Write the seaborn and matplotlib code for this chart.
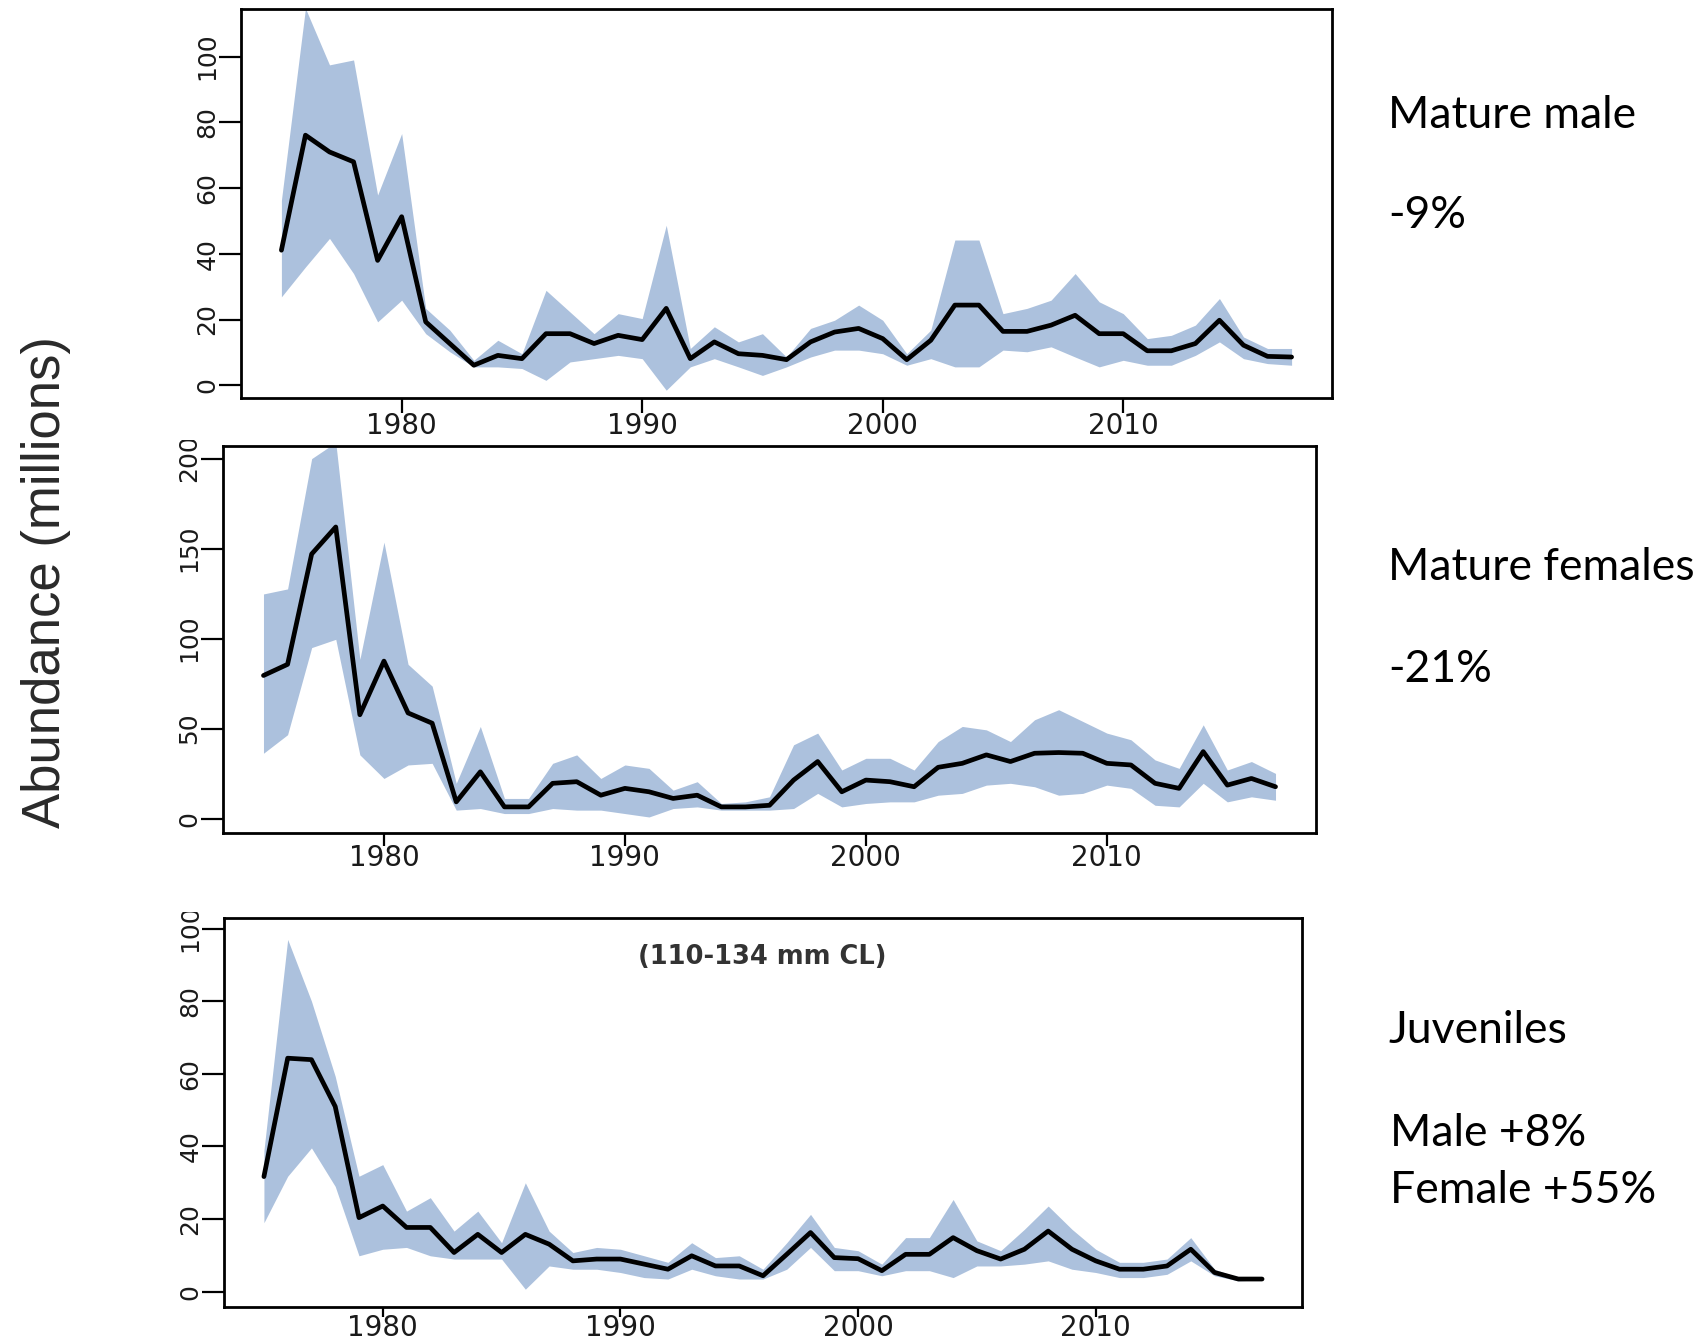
import numpy as np
import pandas as pd
import matplotlib
matplotlib.use("Agg")
import matplotlib.pyplot as plt
from matplotlib.transforms import Bbox
import seaborn as sns

# ---------------- data ----------------
years = list(range(1975, 2018))

male_mean = [41.1, 76.1, 71, 68, 38, 51.3, 19.3, 12.7, 6.1, 9.1, 8.1, 15.7, 15.7, 12.7, 15.2,
             13.9, 23.4, 8.1, 13.2, 9.6, 9.1, 7.8, 13.2, 16.2, 17.3, 14.2, 7.8, 13.7, 24.4,
             24.4, 16.4, 16.4, 18.3, 21.3, 15.7, 15.7, 10.5, 10.5, 12.7, 19.8, 12.2, 8.8, 8.6]
male_upper = [56.3, 114.7, 97.5, 99, 57.9, 76.6, 23.4, 16.8, 7.6, 13.7, 9.6, 28.9, 22.3, 15.7,
              21.8, 20.3, 48.7, 11.2, 17.8, 13.2, 15.7, 8.6, 17.3, 19.8, 24.4, 19.8, 9.6, 16.8,
              44.2, 44.2, 21.8, 23.4, 25.9, 34, 25.4, 21.8, 14.2, 15.2, 18.3, 26.4, 14.7, 11.2, 11.2]
male_lower = [26.9, 36, 44.7, 34, 19.3, 25.9, 15.7, 10.2, 5.6, 5.6, 5.1, 1.5, 7.1, 8.1, 9.1,
              8.1, -1.5, 5.6, 8.1, 5.6, 3.0, 5.6, 8.6, 10.7, 10.7, 9.6, 6.1, 8.1, 5.6, 5.6,
              10.7, 10.2, 11.7, 8.6, 5.6, 7.6, 6.1, 6.1, 9.1, 13.2, 8.1, 6.6, 6.1]

female_mean = [79.5, 85.7, 147, 162, 57.7, 87.5, 58.7, 53, 9.3, 26, 6.5, 6.5, 19.6, 20.5, 13,
               16.8, 14.9, 11.2, 13, 6.5, 6.5, 7.4, 21.4, 31.7, 14.9, 21.4, 20.5, 17.7, 28.5,
               30.7, 35.4, 31.7, 36.3, 36.7, 36.3, 30.7, 29.8, 19.6, 16.8, 37.2, 18.6, 22.3, 17.7]
female_upper = [124.8, 127.6, 200, 209, 88.5, 153.6, 85.7, 73.6, 19.6, 51.2, 11.2, 11.2, 30.7,
                35.4, 22.3, 29.8, 27.9, 15.8, 20.5, 8.4, 9.3, 12.1, 41, 47.5, 27, 33.5, 33.5,
                27, 42.8, 51.2, 49.3, 42.8, 54.9, 60.5, 54, 47.5, 43.8, 32.6, 27.9, 52.1, 27,
                31.7, 25.1]
female_lower = [36.3, 46.6, 95, 99.6, 35.4, 22.3, 29.8, 30.7, 4.7, 5.6, 2.8, 2.8, 5.6, 4.7, 4.7,
                2.8, 0.9, 5.6, 6.5, 4.7, 4.7, 4.7, 5.6, 14, 6.5, 8.4, 9.3, 9.3, 13, 14, 18.6,
                19.6, 17.7, 13, 14, 18.6, 16.8, 7.4, 6.5, 19.6, 9.3, 12.1, 10.2]

juv_mean = [31.7, 64.3, 63.9, 51, 20.4, 23.6, 17.7, 17.7, 10.8, 15.8, 10.8, 15.8, 13.1, 8.5, 9,
            9, 7.6, 6.2, 9.9, 7.1, 7.1, 4.4, 10.3, 16.3, 9.4, 9.1, 5.8, 10.3, 10.3, 14.9, 11.3,
            9, 11.7, 16.7, 11.7, 8.5, 6.2, 6.2, 7.1, 11.7, 5.3, 3.5, 3.5]
juv_upper = [38.9, 97, 80, 59.3, 31.8, 35, 22.2, 25.9, 16.7, 22.2, 13.5, 30, 16.7, 10.8, 12.2,
             11.7, 9.9, 8.1, 13.5, 9.4, 9.9, 6.2, 13.5, 21.3, 12.2, 11.3, 7.6, 14.9, 14.9, 25.4,
             14, 11.3, 17.2, 23.6, 17.2, 11.7, 8.1, 8.1, 9, 14.9, 6.2, 3.9, 3.7]
juv_lower = [19, 31.8, 39.6, 29, 9.9, 11.7, 12.2, 9.9, 9, 9, 9, 0.7, 7.1, 6.2, 6.2, 5.3, 3.9,
             3.5, 6.2, 4.4, 3.5, 3.5, 6.2, 12.2, 5.8, 5.8, 4.4, 5.8, 5.8, 3.9, 7.1, 7.1, 7.6,
             8.5, 6.2, 5.3, 3.9, 3.9, 4.8, 8.5, 4.4, 3, 3.3]

x_ticks = [1980, 1990, 2000, 2010]
male_yticks = [0, 20, 40, 60, 80, 100]
female_yticks = [0, 50, 100, 150, 200]
juv_yticks = [0, 20, 40, 60, 80, 100]

panel_labels = ["Mature male", "Mature females", "Juveniles"]
change_labels = ["-9%", "-21%", "Male +8%", "Female +55%"]
subtitle = "(110-134 mm CL)"
ylabel = "Abundance (millions)"

# ---------------- style ----------------
sns.set_theme(style="white")
plt.rcParams['font.family'] = ['DejaVu Sans']

W, H = 1706, 1344
fig = plt.figure(figsize=(W / 100, H / 100), dpi=100)
fig.patch.set_facecolor("white")

BAND = "#ACC1DD"
TICK_COLOR = "#1a1a1a"


def px_axes(left, top, right, bottom):
    return fig.add_axes([left / W, 1 - bottom / H, (right - left) / W, (bottom - top) / H])


def draw_panel(ax, mean, lower, upper, yticks, ylim, xtick_len, xpad):
    ax.fill_between(years, lower, upper, color=BAND, linewidth=0, zorder=1)
    df = pd.DataFrame({"year": years, "value": mean})
    sns.lineplot(data=df, x="year", y="value", ax=ax, color="black", linewidth=3.4,
                 zorder=3, legend=False)
    ax.set_xlim(1973.32, 2018.68)
    ax.set_ylim(*ylim)
    ax.set_xticks(x_ticks)
    ax.set_xticklabels([str(t) for t in x_ticks])
    ax.set_yticks(yticks)
    ax.set_yticklabels([str(t) for t in yticks])
    ax.set_xlabel("")
    ax.set_ylabel("")
    ax.set_facecolor("white")
    for s in ax.spines.values():
        s.set_visible(True)
        s.set_color("black")
        s.set_linewidth(2.0)
    ax.tick_params(axis="x", direction="out", length=xtick_len, width=1.6, color="black",
                   labelsize=20, labelcolor=TICK_COLOR, pad=xpad, bottom=True)
    ax.tick_params(axis="y", direction="out", length=15.5, width=1.6, color="black",
                   labelsize=18, labelcolor=TICK_COLOR, pad=0, labelrotation=90, left=True)
    for lab in ax.get_yticklabels():
        lab.set_va("center")
    ax.grid(False)


ax1 = px_axes(241, 9, 1332, 398)
draw_panel(ax1, male_mean, male_lower, male_upper, male_yticks, (-3.87, 114.5), 11, -1)

ax2 = px_axes(223, 446, 1316, 833)
draw_panel(ax2, female_mean, female_lower, female_upper, female_yticks, (-8.0, 207.0), 9, -1)

ax3 = px_axes(224, 918, 1302, 1307)
draw_panel(ax3, juv_mean, juv_lower, juv_upper, juv_yticks, (-4.2, 102.9), 7, -2)

ax3.text(762 / W, 1 - 957 / H, subtitle, transform=fig.transFigure, ha="center",
         va="center", fontsize=18.5, fontweight="bold", color="#333333")

# clip the top tick labels as in the composited reference
fig.canvas.draw()
for ax, clip_top in [(ax2, 440), (ax3, 912)]:
    box = Bbox.from_extents(0, 0, W, H - clip_top)
    for lab in ax.get_yticklabels():
        lab.set_clip_box(box)
        lab.set_clip_on(True)

# right-hand annotations
RF = ['Lato', 'DejaVu Sans']
def rtext(x, y, s):
    fig.text(x / W, 1 - y / H, s, ha="left", va="baseline", fontsize=32,
             color="black", family=RF)

rtext(1388, 128, panel_labels[0])
rtext(1388, 228, change_labels[0])
rtext(1388, 580, panel_labels[1])
rtext(1388, 682, change_labels[1])
rtext(1388, 1043, panel_labels[2])
rtext(1390, 1146, change_labels[2])
rtext(1390, 1203, change_labels[3])

fig.text(46 / W, 1 - 582 / H, ylabel, rotation=90, ha="center", va="center",
         fontsize=38, color="#2a2a2a", family=['Liberation Sans', 'DejaVu Sans'])

fig.savefig("out.png", dpi=100, facecolor="white")
